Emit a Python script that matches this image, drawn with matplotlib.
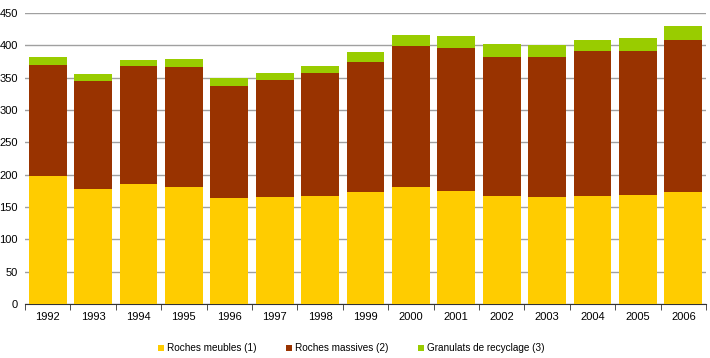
import matplotlib
matplotlib.use("Agg")
import matplotlib.pyplot as plt
import numpy as np

years = ["1992", "1993", "1994", "1995", "1996", "1997", "1998", "1999",
         "2000", "2001", "2002", "2003", "2004", "2005", "2006"]
roches_meubles = [197.5, 178.3, 185.6, 180.4, 164.4, 165.5, 167.5, 173.7,
                  180.4, 174.7, 167.5, 165.5, 167.5, 169.0, 173.7]
roches_massives = [172.1, 166.5, 181.9, 186.1, 172.2, 180.9, 189.2, 201.1,
                   219.0, 221.1, 215.0, 217.0, 223.7, 222.2, 234.0]
granulats_recyclage = [11.8, 10.8, 10.4, 12.3, 12.4, 10.3, 11.9, 14.9,
                       16.3, 18.6, 19.5, 17.5, 17.5, 20.1, 22.6]
labels = ["Roches meubles (1)", "Roches massives (2)", "Granulats de recyclage (3)"]
colors = ["#FFCC00", "#993300", "#99CC00"]

plt.rcParams['font.family'] = ['Liberation Sans', 'DejaVu Sans']
fig = plt.figure(figsize=(7.1, 3.58), dpi=100)
ax = fig.add_axes([0.0352, 0.151, 0.9592, 0.8127])

x = np.arange(len(years))
w = 0.83
b1 = np.array(roches_meubles)
b2 = b1 + np.array(roches_massives)
ax.bar(x, roches_meubles, w, color=colors[0], label=labels[0], zorder=3)
ax.bar(x, roches_massives, w, bottom=b1, color=colors[1], label=labels[1], zorder=3)
ax.bar(x, granulats_recyclage, w, bottom=b2, color=colors[2], label=labels[2], zorder=3)

ax.set_xlim(-0.5, len(years) - 0.5)
ax.set_ylim(0, 450)
ax.set_yticks(np.arange(0, 451, 50))
ax.yaxis.grid(True, color="#A0A0A0", linewidth=1, zorder=0)
ax.set_xticks(x)
ax.set_xticklabels(years)
ax.set_xticks(np.arange(-0.5, len(years), 1), minor=True)
ax.tick_params(axis='x', which='major', length=0, labelsize=8, pad=6)
ax.tick_params(axis='x', which='minor', length=4, color="#333333", direction='out')
ax.tick_params(axis='y', length=0, labelsize=8, pad=5)
for s in ["top", "right", "left"]:
    ax.spines[s].set_visible(False)
ax.spines["bottom"].set_color("#333333")

ax.legend(loc="upper center", bbox_to_anchor=(0.479, -0.105), ncol=3, frameon=False,
          fontsize=7.2, handlelength=0.6, handleheight=0.6, handletextpad=0.25,
          columnspacing=3.0)

fig.savefig("out.png", dpi=100)
